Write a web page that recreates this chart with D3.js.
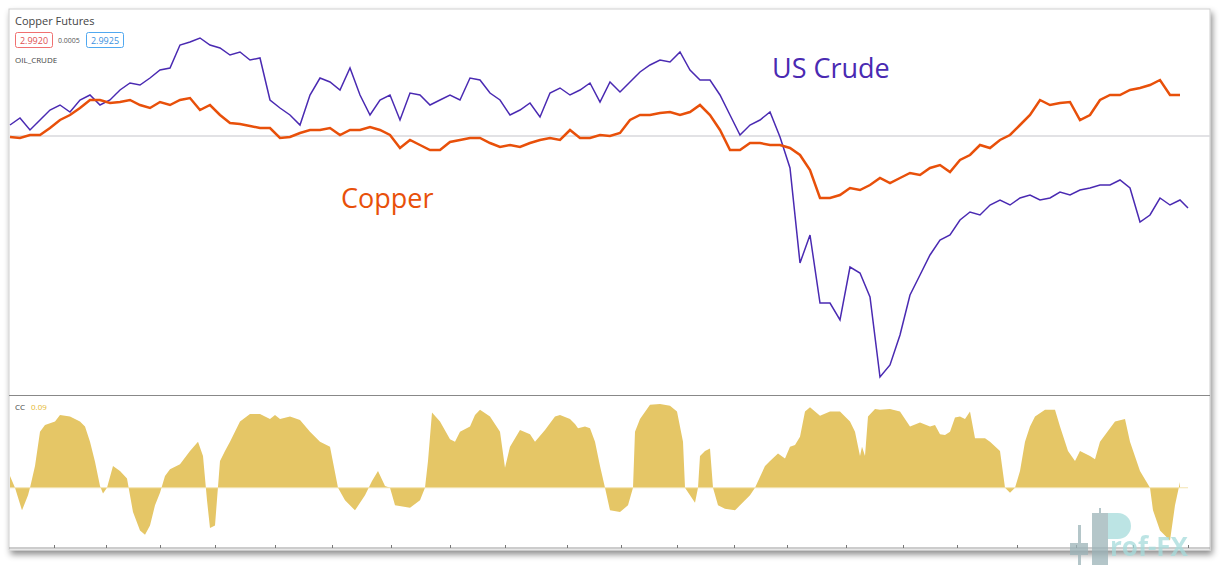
<!DOCTYPE html>
<html><head><meta charset="utf-8">
<script src="https://cdn.jsdelivr.net/npm/d3@7"></script>
<style>body{margin:0;background:#fff;font-family:"Open Sans",sans-serif}</style>
</head><body><svg id="c" width="1220" height="565"></svg>
<script>
// day index (0..1178) ; price series: % deviation units above common baseline
const days = d3.range(0, 1179, 10).concat([1178]);
const crude = [11,18,6,16,26,31,24,36,41,31,36,46,53,51,58,66,68,91,94,98,91,88,81,84,76,78,36,28,21,11,41,58,54,46,68,41,21,36,41,16,43,41,31,36,41,36,58,56,43,36,21,26,33,19,43,48,41,46,53,34,54,44,54,64,71,76,74,84,66,56,56,41,21,1,11,16,24,-1,-32,-127,-99,-167,-167,-184,-131,-137,-161,-241,-229,-199,-159,-139,-119,-104,-99,-84,-76,-79,-69,-64,-69,-62,-59,-64,-62,-56,-59,-54,-52,-49,-49,-44,-52,-86,-79,-62,-69,-64,-72];
const copper = [-1,-2,1,1,8,16,21,28,36,36,33,34,36,31,28,34,31,36,38,26,31,21,13,12,10,8,8,-2,-1,3,6,6,8,1,6,6,9,6,1,-12,-4,-9,-14,-14,-6,-4,-2,-2,-7,-11,-9,-11,-7,-4,-2,-4,6,-2,-2,1,0,3,16,21,21,23,24,21,24,31,21,6,-14,-14,-7,-7,-9,-9,-12,-19,-34,-62,-62,-59,-52,-54,-49,-42,-47,-42,-37,-39,-32,-29,-36,-24,-19,-9,-12,-4,1,11,21,36,31,33,34,16,21,36,41,41,46,48,51,56,41,41];
const ccDays = [0,5,12,18,20,25,30,35,45,50,60,70,75,80,85,90,93,97,103,110,117,123,130,135,140,145,150,155,160,170,180,188,193,197,200,205,210,215,220,230,240,250,260,265,270,280,290,300,310,320,328,335,345,355,362,368,375,380,385,400,410,415,418,422,430,440,445,450,460,465,470,480,490,495,500,510,520,525,535,545,550,560,565,568,575,580,585,590,595,600,610,618,623,625,630,640,650,660,667,673,675,680,685,688,690,695,700,703,708,715,725,730,735,740,745,755,760,768,775,780,785,790,795,800,810,820,830,840,845,850,852,855,858,865,870,880,890,900,910,920,925,930,935,940,945,950,955,960,965,975,980,990,995,1000,1005,1010,1015,1020,1025,1035,1045,1050,1058,1065,1070,1080,1085,1090,1095,1105,1115,1120,1130,1140,1143,1150,1160,1165,1170,1173,1178];
const cc = [0.14,0,-0.27,-0.09,0,0.26,0.67,0.75,0.79,0.87,0.85,0.79,0.73,0.55,0.31,0.02,-0.07,0,0.26,0.2,0.11,-0.29,-0.51,-0.56,-0.45,-0.21,-0.06,0.14,0.22,0.28,0.44,0.55,0.38,-0.15,-0.48,-0.45,0.32,0.44,0.55,0.79,0.88,0.88,0.82,0.87,0.82,0.85,0.81,0.67,0.55,0.49,0,-0.15,-0.27,-0.09,0.08,0.2,0.02,0,-0.21,-0.24,-0.15,0,0.32,0.9,0.79,0.58,0.55,0.67,0.73,0.87,0.93,0.85,0.67,0.24,0.49,0.69,0.64,0.55,0.69,0.85,0.87,0.82,0.76,0.71,0.73,0.71,0.55,0.26,0,-0.27,-0.29,-0.21,0,0.67,0.82,0.99,1.0,0.98,0.91,0.55,0,-0.09,-0.18,0,0.38,0.44,0.47,0,-0.21,-0.25,-0.27,-0.21,-0.15,-0.09,0,0.26,0.32,0.41,0.35,0.49,0.51,0.61,0.91,0.96,0.86,0.91,0.91,0.79,0.67,0.38,0.49,0.38,0.85,0.94,0.93,0.94,0.91,0.73,0.78,0.73,0.75,0.64,0.63,0.67,0.84,0.85,0.82,0.91,0.59,0.59,0.55,0.44,0,-0.06,0,0.2,0.55,0.73,0.85,0.93,0.93,0.73,0.44,0.32,0.44,0.38,0.34,0.55,0.63,0.79,0.82,0.55,0.2,0,-0.27,-0.51,-0.63,-0.21,0.07];
const xTicks = [44,96,150,205,265,322,381,440,495,557,611,667,724,777,836,893,947,1007,1066,1123,1178];
const header = {title:"Copper Futures", bid:"2.9920", spread:"0.0005", ask:"2.9925", sym:"OIL_CRUDE", ind:"CC", indVal:"0.09"};

const svg = d3.select("#c");
const defs = svg.append("defs");
const f = defs.append("filter").attr("id","sh").attr("x","-5%").attr("y","-5%").attr("width","110%").attr("height","115%");
f.append("feDropShadow").attr("dx",2).attr("dy",4).attr("stdDeviation",3).attr("flood-color","#000").attr("flood-opacity",0.45);
svg.append("rect").attr("x",9).attr("y",9).attr("width",1201).attr("height",541).attr("fill","#fff").attr("stroke","#cfcfcf").attr("filter","url(#sh)");

const x = d3.scaleLinear().domain([0,1178]).range([10,1188]);
const y = d3.scaleLinear().domain([-241,98]).range([377,38]);
const yc = d3.scaleLinear().domain([-0.6,1.0]).range([538,404]);

// baseline
svg.append("line").attr("x1",10).attr("x2",1210).attr("y1",y(0)).attr("y2",y(0)).attr("stroke","#d8d8dc").attr("stroke-width",1.5);
const line = d3.line().x((d,i)=>x(days[i])).y(d=>y(d));
svg.append("path").datum(crude).attr("d",line).attr("fill","none").attr("stroke","#4a2ab2").attr("stroke-width",1.5);
svg.append("path").datum(copper).attr("d",line).attr("fill","none").attr("stroke","#e8500a").attr("stroke-width",2.5);

// panel divider
svg.append("line").attr("x1",9).attr("x2",1210).attr("y1",395.5).attr("y2",395.5).attr("stroke","#888");
const area = d3.area().x((d,i)=>x(ccDays[i])).y0(yc(0)).y1(d=>yc(d));
svg.append("path").datum(cc).attr("d",area).attr("fill","#e5c666");
svg.append("line").attr("x1",10).attr("x2",1188).attr("y1",yc(0)).attr("y2",yc(0)).attr("stroke","#f3e3b0").attr("stroke-width",1);

// x axis
const ax = svg.append("g").attr("transform","translate(0,548)").call(d3.axisBottom(x).tickValues(xTicks).tickSize(3).tickFormat(""));
ax.select(".domain").attr("stroke","#999").attr("d","M9,0H1210");
ax.selectAll(".tick line").attr("stroke","#777").attr("transform","translate(0,-3)");

// labels
svg.append("text").attr("x",772).attr("y",78).attr("font-size",27).attr("fill","#4a2ab2").text("US Crude");
svg.append("text").attr("x",341).attr("y",208).attr("font-size",27).attr("fill","#e8500a").text("Copper");
svg.append("text").attr("x",15).attr("y",25).attr("font-size",11).attr("fill","#444").text(header.title);
svg.append("rect").attr("x",15.5).attr("y",32.5).attr("width",37).attr("height",15).attr("rx",2).attr("fill","#fff").attr("stroke","#f07070");
svg.append("text").attr("x",34).attr("y",44).attr("text-anchor","middle").attr("font-size",9).attr("fill","#e05050").text(header.bid);
svg.append("text").attr("x",58).attr("y",43).attr("font-size",7).attr("fill","#555").text(header.spread);
svg.append("rect").attr("x",86.5).attr("y",32.5).attr("width",37).attr("height",15).attr("rx",2).attr("fill","#fff").attr("stroke","#50a8f0");
svg.append("text").attr("x",105).attr("y",44).attr("text-anchor","middle").attr("font-size",9).attr("fill","#3a90e0").text(header.ask);
svg.append("text").attr("x",15).attr("y",63).attr("font-size",8).attr("fill","#444").text(header.sym);
svg.append("text").attr("x",15).attr("y",410).attr("font-size",8).attr("fill","#444").text(header.ind);
svg.append("text").attr("x",31).attr("y",410).attr("font-size",8).attr("fill","#e5b830").text(header.indVal);

// watermark
const w = svg.append("g").attr("opacity",0.75);
w.append("rect").attr("x",1078).attr("y",525).attr("width",3).attr("height",40).attr("fill","#9bb3b8");
w.append("rect").attr("x",1070).attr("y",543).attr("width",18).attr("height",12).attr("fill","#9bb3b8");
w.append("rect").attr("x",1099).attr("y",508).attr("width",2).attr("height",57).attr("fill","#9bb3b8");
w.append("rect").attr("x",1092).attr("y",513).attr("width",16).attr("height",52).attr("fill","#9bb3b8");
w.append("path").attr("d","M1108,513 h10 a13,13 0 0 1 0,26 h-10 z").attr("fill","#a6dcdc");
w.append("text").attr("x",1110).attr("y",556).attr("font-size",26).attr("font-weight","bold").attr("fill","#a6dcdc").text("rof-FX");
</script></body></html>
